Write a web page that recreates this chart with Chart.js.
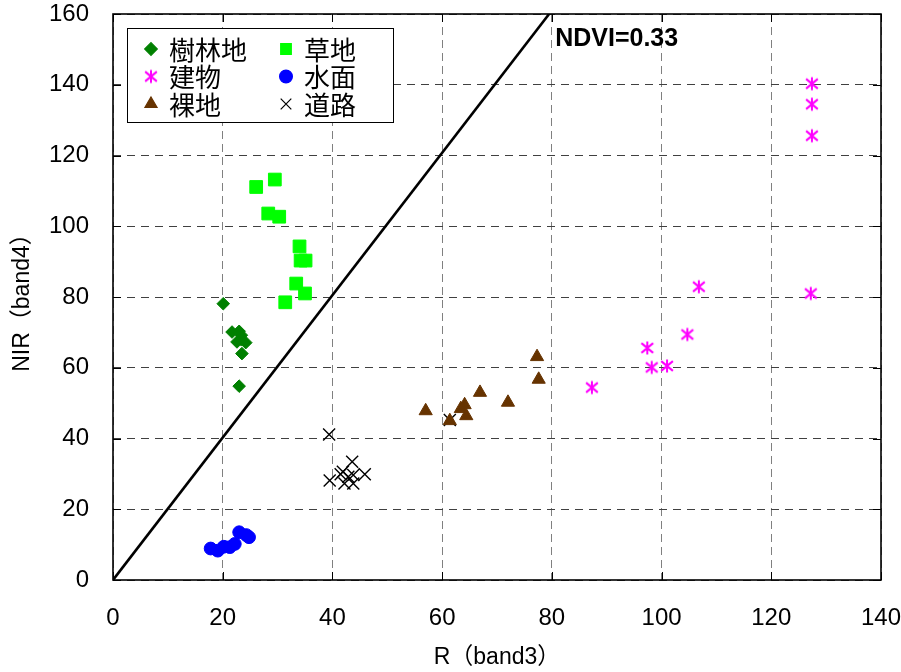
<!DOCTYPE html>
<html>
<head>
<meta charset="utf-8">
<script src="https://cdn.jsdelivr.net/npm/chart.js@4.4.0/dist/chart.umd.min.js"></script>
<style>
html,body{margin:0;padding:0;background:#fff;}
#wrap{width:901px;height:672px;position:relative;}
</style>
</head>
<body>
<div id="wrap"><canvas id="c" width="901" height="672"></canvas></div>
<script>
// ---- data ----
const forestX = [20.1, 21.7, 23.0, 23.4, 23.4, 22.6, 24.2, 23.5, 23.0];
const forestY = [78.1, 70.1, 70.3, 69.2, 67.9, 67.3, 67.1, 64.0, 54.8];

const grassX = [26.1, 29.5, 28.3, 30.3, 34.0, 34.2, 35.1, 33.4, 35.0, 31.4];
const grassY = [111.1, 113.2, 103.6, 102.7, 94.3, 90.3, 90.3, 83.8, 81.0, 78.5];

const buildX = [127.4, 127.4, 127.4, 127.2, 106.8, 104.7, 97.4, 98.2, 101.0, 87.3];
const buildY = [140.3, 134.5, 125.6, 81.0, 82.9, 69.4, 65.6, 60.1, 60.5, 54.4];

const waterX = [17.8, 19.1, 20.2, 21.3, 22.2, 23.0, 24.3, 24.8];
const waterY = [8.9, 8.3, 9.4, 9.3, 10.2, 13.5, 12.7, 12.1];

const bareX = [57.0, 61.4, 63.4, 64.1, 64.4, 66.9, 72.0, 77.3, 77.6];
const bareY = [47.8, 45.0, 48.4, 49.5, 46.4, 53.0, 50.2, 63.1, 56.7];

const roadX = [39.4, 39.5, 41.5, 41.9, 43.6, 42.9, 42.2, 43.8, 43.8, 45.9, 61.4];
const roadY = [41.1, 28.1, 29.9, 30.6, 33.4, 29.2, 27.3, 27.3, 29.7, 29.9, 45.2];

const lineX = [0, 79.5];
const lineY = [0, 160];

const xTickValues = [0, 20, 40, 60, 80, 100, 120, 140];
const yTickValues = [0, 20, 40, 60, 80, 100, 120, 140, 160];

const labels = ['樹林地', '草地', '建物', '水面', '裸地', '道路'];
const xTitle = 'R（band3）';
const yTitle = 'NIR（band4）';
const ndviLabel = 'NDVI=0.33';

// ---- helpers ----
function pts(xs, ys){ return xs.map((x,i)=>({x:x, y:ys[i]})); }

function makeAsterisk(size, color){
  const c = document.createElement('canvas');
  c.width = size; c.height = size;
  const g = c.getContext('2d');
  const m = size/2, r = size/2 - 1.5;
  g.strokeStyle = color; g.lineWidth = 2; g.lineCap = 'butt';
  g.beginPath();
  g.moveTo(m, m - r); g.lineTo(m, m + r);
  g.moveTo(m - r*0.9, m - r*0.75); g.lineTo(m + r*0.9, m + r*0.75);
  g.moveTo(m - r*0.9, m + r*0.75); g.lineTo(m + r*0.9, m - r*0.75);
  g.stroke();
  return c;
}
const asterisk = makeAsterisk(16, '#FF00FF');

const styles = [
  {style:'rectRot', radius:6.3, color:'#008000'},
  {style:'rect', radius:9, color:'#00FF00'},
  {style:asterisk, radius:8, color:'#FF00FF'},
  {style:'circle', radius:6.4, color:'#0000FF'},
  {style:'triangle', radius:7.6, color:'#663300'},
  {style:'crossRot', radius:8.5, color:'#000000'}
];
const series = [pts(forestX,forestY), pts(grassX,grassY), pts(buildX,buildY), pts(waterX,waterY), pts(bareX,bareY), pts(roadX,roadY)];

const datasets = series.map((d,i)=>({
  label: labels[i],
  data: d,
  pointStyle: styles[i].style,
  pointRadius: styles[i].radius,
  pointHoverRadius: styles[i].radius,
  backgroundColor: styles[i].color,
  borderColor: styles[i].color,
  borderWidth: (styles[i].style==='crossRot') ? 1.4 : 1,
  showLine: false
}));
datasets.push({
  label: 'NDVI',
  data: pts(lineX, lineY),
  showLine: true,
  borderColor: '#000',
  borderWidth: 2.6,
  pointRadius: 0,
  fill: false
});

const framePlugin = {
  id: 'framePlugin',
  beforeDatasetsDraw(chart){
    const {ctx, chartArea:a, scales:{x, y}} = chart;
    ctx.save();
    ctx.strokeStyle = '#000';
    ctx.lineWidth = 1;
    ctx.beginPath();
    x.ticks.forEach(t=>{
      const px = Math.round(x.getPixelForValue(t.value)) + 0.5;
      ctx.moveTo(px, a.bottom); ctx.lineTo(px, a.bottom - 8);
      ctx.moveTo(px, a.top); ctx.lineTo(px, a.top + 8);
    });
    y.ticks.forEach(t=>{
      const py = Math.round(y.getPixelForValue(t.value)) + 0.5;
      ctx.moveTo(a.left, py); ctx.lineTo(a.left + 8, py);
      ctx.moveTo(a.right, py); ctx.lineTo(a.right - 8, py);
    });
    ctx.stroke();
    ctx.lineWidth = 1.6;
    ctx.strokeRect(a.left, a.top, a.right - a.left, a.bottom - a.top);
    ctx.restore();
  },
  afterDraw(chart){
    const {ctx, chartArea:a, scales:{x, y}} = chart;
    ctx.save();
    // NDVI label
    ctx.fillStyle = '#000';
    ctx.font = 'bold 25px "Liberation Sans", Arial, sans-serif';
    ctx.textAlign = 'left';
    ctx.textBaseline = 'middle';
    ctx.fillText(ndviLabel, x.getPixelForValue(80.6), y.getPixelForValue(153));
    // legend box
    const bx = a.left + 14, by = a.top + 14, bw = 266, bh = 94;
    ctx.fillStyle = '#fff';
    ctx.fillRect(bx, by, bw, bh);
    ctx.strokeStyle = '#000';
    ctx.lineWidth = 1;
    ctx.strokeRect(bx + 0.5, by + 0.5, bw, bh);
    ctx.font = '26px "Noto Sans CJK JP", sans-serif';
    ctx.textBaseline = 'middle';
    labels.forEach((lab, i)=>{
      const col = i % 2, row = Math.floor(i / 2);
      const mx = bx + 24 + col * 135;
      const my = by + 21 + row * 27.5;
      const s = styles[i];
      ctx.fillStyle = s.color;
      ctx.strokeStyle = s.color;
      ctx.lineWidth = 1.2;
      let r = s.radius;
      if (s.style === 'rect') r = 7.5;
      if (s.style === 'crossRot') r = 7.5;
      if (s.style === 'triangle') r = 7;
      if (s.style === asterisk) r = 7;
      Chart.helpers.drawPoint(ctx, {pointStyle: s.style, radius: r, rotation: 0, borderWidth: 1}, mx, my);
      ctx.fillStyle = '#000';
      ctx.fillText(lab, mx + 18, my + 1);
    });
    ctx.restore();
  }
};

new Chart(document.getElementById('c'), {
  type: 'scatter',
  data: { datasets: datasets },
  options: {
    responsive: false,
    animation: false,
    devicePixelRatio: 1,
    events: [],
    layout: { padding: { top: 14, right: 20, left: 0, bottom: 0 } },
    plugins: { legend: { display: false }, tooltip: { enabled: false } },
    scales: {
      x: {
        type: 'linear', min: 0, max: 140,
        afterBuildTicks(scale){ scale.ticks = xTickValues.map(v=>({value:v})); },
        afterFit(scale){ scale.height = 92; scale.paddingLeft = 0; scale.paddingRight = 0; },
        ticks: { color: '#000', font: { family: '"Liberation Sans", Arial, sans-serif', size: 24 }, padding: 24, maxRotation: 0 },
        grid: { color: '#808080', lineWidth: 1, drawTicks: false },
        border: { display: false, dash: [8, 5] },
        title: { display: true, text: xTitle, color: '#000', font: { family: '"Liberation Sans", "Noto Sans CJK JP", sans-serif', size: 23 }, padding: { top: 0, bottom: 1 } }
      },
      y: {
        type: 'linear', min: 0, max: 160,
        afterBuildTicks(scale){ scale.ticks = yTickValues.map(v=>({value:v})); },
        afterFit(scale){ scale.width = 113; scale.paddingTop = 0; scale.paddingBottom = 0; },
        ticks: { color: '#000', font: { family: '"Liberation Sans", Arial, sans-serif', size: 24 }, padding: 24 },
        grid: { color: '#404040', lineWidth: 1, drawTicks: false },
        border: { display: false, dash: [8, 6] },
        title: { display: true, text: yTitle, color: '#000', font: { family: '"Liberation Sans", "Noto Sans CJK JP", sans-serif', size: 23 }, padding: { top: 9, bottom: 0 } }
      }
    }
  },
  plugins: [framePlugin]
});
</script>
</body>
</html>
